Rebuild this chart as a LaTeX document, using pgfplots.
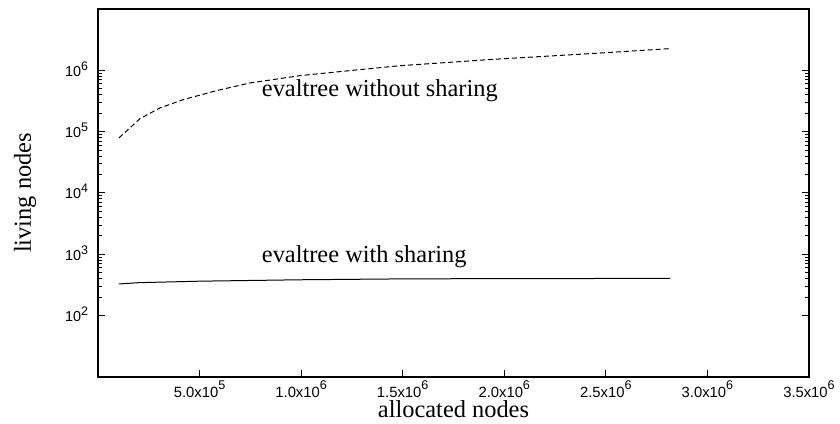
\documentclass[border=0pt]{standalone}
\usepackage{fontspec}
\setmainfont{Liberation Serif}
\newfontfamily\helv{Liberation Sans}
\usepackage{pgfplots}
\pgfplotsset{compat=1.18}
\newcommand\xs[1]{\raisebox{4pt}{\fontsize{6.3}{6.3}\selectfont #1}}
\newcommand\ys[1]{\raisebox{3pt}{\fontsize{6.2}{6.2}\selectfont #1}}
\begin{document}
\begin{tikzpicture}
\begin{axis}[
  name=ax,
  scale only axis,
  width=355.5pt, height=184pt,
  xmin=0, xmax=3.5e6,
  ymode=log, ymin=10, ymax=1e7,
  axis line style={line width=0.6pt},
  tick style={line width=0.5pt, black},
  major tick length=3.5pt, minor tick length=2pt,
  tick align=inside,
  xtick pos=lower, ytick pos=both,
  xtick={5e5,1e6,1.5e6,2e6,2.5e6,3e6,3.5e6},
  xticklabels={5.0x10\xs{5},1.0x10\xs{6},1.5x10\xs{6},2.0x10\xs{6},2.5x10\xs{6},3.0x10\xs{6},3.5x10\xs{6}},
  ytick={1e2,1e3,1e4,1e5,1e6},
  yticklabels={10\ys{2},10\ys{3},10\ys{4},10\ys{5},10\ys{6}},
  minor ytick={200,300,400,500,600,700,800,900,2000,3000,4000,5000,6000,7000,8000,9000,20000,30000,40000,50000,60000,70000,80000,90000,200000,300000,400000,500000,600000,700000,800000,900000},
  scaled x ticks=false,
  xticklabel style={font=\helv\fontsize{7.4}{8}\selectfont, anchor=base, yshift=-10pt},
  yticklabel style={font=\helv\fontsize{7.2}{8}\selectfont, anchor=base east, yshift=-3pt, xshift=-1.5pt},
  every axis x label/.style={at={(axis description cs:0.5,0)}, yshift=-20pt, anchor=base},
  every axis y label/.style={at={(axis description cs:0,0.5)}, xshift=-36.5pt, rotate=90, anchor=center},
  xlabel={\fontsize{12.2}{14}\selectfont allocated nodes},
  ylabel={\fontsize{12.2}{14}\selectfont living nodes},
]
\addplot[black, line width=0.5pt, dash pattern=on 2.5pt off 1.5pt] coordinates {
(1.03e5,7.9e4) (2.07e5,1.63e5) (3.05e5,2.44e5) (4.2e5,3.33e5) (5.84e5,4.67e5)
(7.48e5,6.22e5) (9.95e5,8.2e5) (1.241e6,9.9e5) (1.487e6,1.19e6) (1.93e6,1.5e6)
(2.422e6,1.87e6) (2.816e6,2.26e6)};
\addplot[black, line width=0.5pt] coordinates {
(1.03e5,329) (2e5,345) (5e5,365) (1e6,385) (1.5e6,398) (2e6,402) (2.816e6,405)};
\node[anchor=base west, inner sep=0pt, font=\fontsize{12.2}{14}\selectfont] at (rel axis cs:0.230,0.7617) {evaltree without sharing};
\node[anchor=base west, inner sep=0pt, font=\fontsize{12.2}{14}\selectfont] at (rel axis cs:0.230,0.3098) {evaltree with sharing};
\end{axis}
\pgfresetboundingbox
\path[use as bounding box] ([shift={(-49pt,-23pt)}]ax.south west) rectangle ([shift={(15.5pt,4.5pt)}]ax.north east);
\end{tikzpicture}
\end{document}
